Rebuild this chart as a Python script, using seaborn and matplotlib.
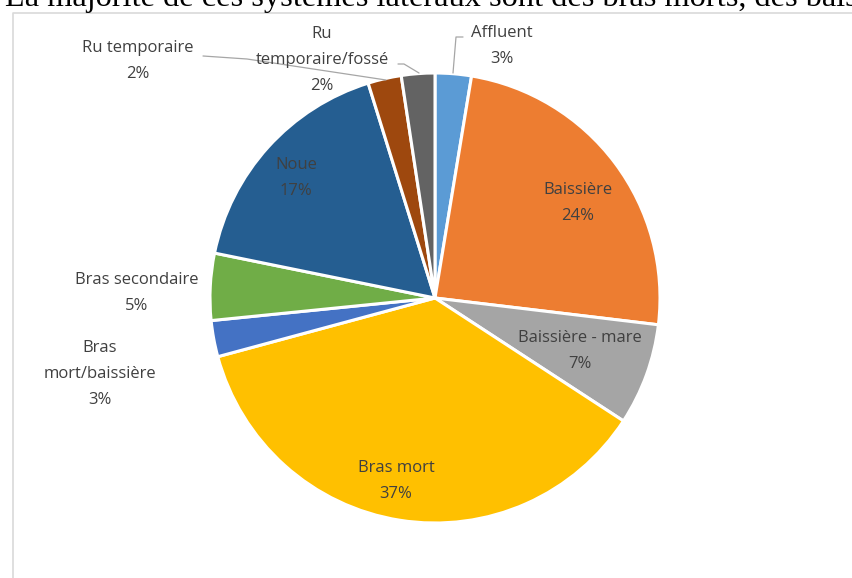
import matplotlib
matplotlib.use("Agg")
import matplotlib.pyplot as plt
import seaborn as sns

sns.set_theme(style="white")
plt.rcParams['font.family'] = ['Open Sans', 'DejaVu Sans']

categories = ["Affluent", "Baissière", "Baissière - mare", "Bras mort",
              "Bras mort/baissière", "Bras secondaire", "Noue",
              "Ru temporaire", "Ru temporaire/fossé"]
values = [2.6, 24.3, 7.3, 36.6, 2.6, 4.8, 17.0, 2.4, 2.4]
display_names = ["Affluent", "Baissière", "Baissière - mare", "Bras mort",
                 "Bras\nmort/baissière", "Bras secondaire", "Noue",
                 "Ru temporaire", "Ru\ntemporaire/fossé"]
colors = ["#5B9BD5", "#ED7D31", "#A5A5A5", "#FFC000", "#4472C4",
          "#70AD47", "#255E91", "#9E480E", "#636363"]

W, H = 852, 578
fig = plt.figure(figsize=(W / 100, H / 100), dpi=100)
ax = fig.add_axes([0, 0, 1, 1])
ax.set_xlim(0, W)
ax.set_ylim(0, H)
ax.set_aspect('equal')
ax.axis('off')

def py(y):
    return H - y

# frame
ax.plot([12.5, 12.5, W + 5], [py(H + 5), py(12.5), py(12.5)],
        color="#D9D9D9", lw=1.2, solid_capstyle='butt')

# cut-off sentence at top
ax.text(5, py(6), "La majorité de ces systèmes latéraux sont des bras morts, des baissières",
        family="Liberation Serif", fontsize=23.3, color="black",
        ha="left", va="baseline")

cx, cy, r = 435, 298, 225
wedges, _ = ax.pie(values, colors=colors, startangle=90, counterclock=False,
                   center=(cx, py(cy)), radius=r,
                   wedgeprops=dict(edgecolor="white", linewidth=2.2))
ax.set_xlim(0, W)
ax.set_ylim(0, H)

label_pos = {
    "Affluent": (502, 46),
    "Baissière": (578, 203),
    "Baissière - mare": (580, 351),
    "Bras mort": (396, 481),
    "Bras mort/baissière": (100, 374),
    "Bras secondaire": (137, 293),
    "Noue": (296, 178),
    "Ru temporaire": (138, 61),
    "Ru temporaire/fossé": (322, 60),
}

txtcol = "#404040"
for cat, name, v in zip(categories, display_names, values):
    x, y = label_pos[cat]
    ax.text(x, py(y), f"{name}\n{v:.0f}%", ha="center", va="center",
            fontsize=12, color=txtcol, linespacing=1.85)

lc = "#A6A6A6"
# leader lines
ax.plot([453, 456, 463], [py(73), py(37), py(37)], color=lc, lw=0.9)
ax.plot([419, 404, 398], [py(73), py(64), py(64)], color=lc, lw=0.9)
ax.plot([386, 247, 203], [py(80), py(59), py(56)], color=lc, lw=0.9)

fig.savefig("out.png", dpi=100)
